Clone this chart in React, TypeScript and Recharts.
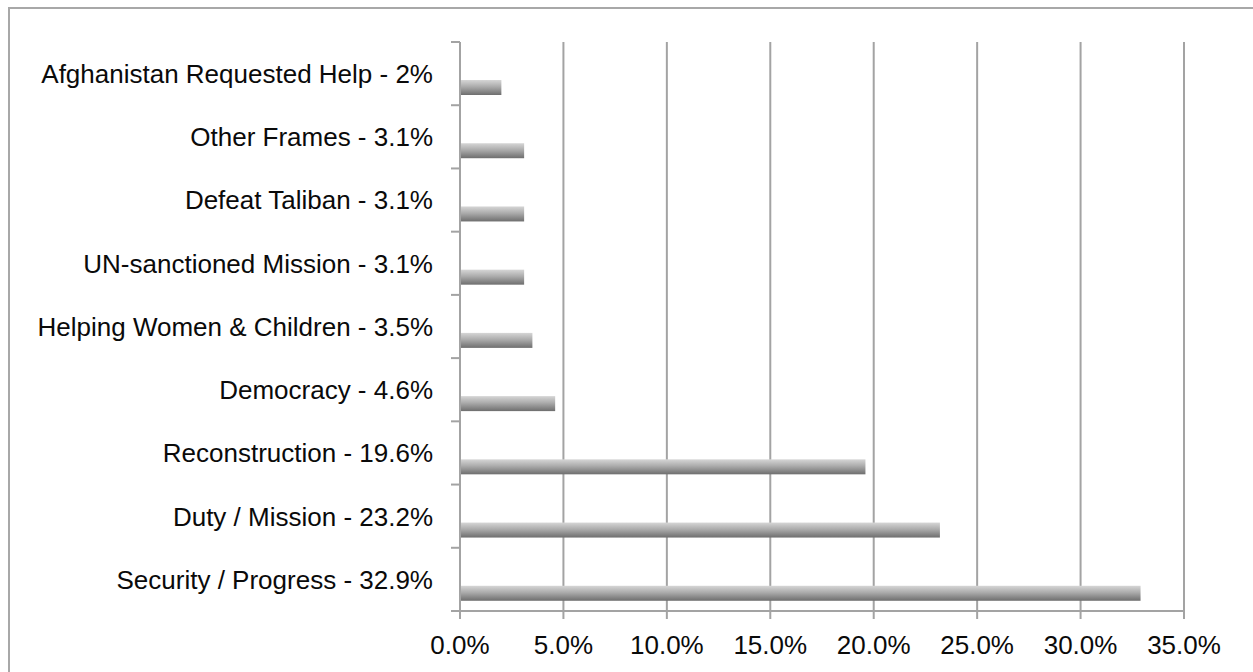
import React from "react";
import { BarChart, Bar, XAxis, YAxis, CartesianGrid } from "recharts";

const categories = [
  "Afghanistan Requested Help - 2%",
  "Other Frames - 3.1%",
  "Defeat Taliban - 3.1%",
  "UN-sanctioned Mission - 3.1%",
  "Helping Women & Children - 3.5%",
  "Democracy - 4.6%",
  "Reconstruction - 19.6%",
  "Duty / Mission - 23.2%",
  "Security / Progress - 32.9%",
];
const values = [2, 3.1, 3.1, 3.1, 3.5, 4.6, 19.6, 23.2, 32.9];
const xTicks = [0, 5, 10, 15, 20, 25, 30, 35];

const data = categories.map((name, i) => ({ name, value: values[i] }));

const W = 1243;
const H = 663;
const MARGIN = { top: 33, right: 69, bottom: 0, left: 0 };
const Y_W = 450;
const X_H = 61;
const FONT = "'Liberation Sans', Arial, Helvetica, sans-serif";
const GRID = "#a3a3a3";
const SW = 2;
const BAR_SHIFT = 14;
const FS = 26;

const YTick = (props: any) => {
  const { x, y, payload, index } = props;
  const plotH = H - MARGIN.top - MARGIN.bottom - X_H;
  const half =
    payload && typeof payload.offset === "number" && payload.offset > 0
      ? payload.offset
      : plotH / categories.length / 2;
  const axisX = Y_W + MARGIN.left;
  return (
    <g>
      <line x1={axisX - 9} x2={axisX} y1={y - half} y2={y - half} stroke={GRID} strokeWidth={SW} />
      {index === categories.length - 1 && (
        <line x1={axisX - 9} x2={axisX} y1={y + half} y2={y + half} stroke={GRID} strokeWidth={SW} />
      )}
      <text x={x} y={y} dy="0.36em" textAnchor="end" fontFamily={FONT} fontSize={FS} fill="#0a0a0a">
        {payload.value}
      </text>
    </g>
  );
};

const XTick = (props: any) => {
  const { x, y, payload } = props;
  return (
    <text x={x} y={y} dy="0.72em" textAnchor="middle" fontFamily={FONT} fontSize={FS} fill="#0a0a0a">
      {payload.value.toFixed(1) + "%"}
    </text>
  );
};

const BarShape = (props: any) => {
  const { x, y, width, height } = props;
  if (!width || width <= 0) return null;
  return <rect x={x} y={y + BAR_SHIFT} width={width} height={height} fill="url(#barGrad)" />;
};

export default function App() {
  return (
    <div
      style={{
        position: "absolute",
        left: 8,
        top: 7,
        width: 1245,
        height: 665,
        boxSizing: "border-box",
        borderTop: "2px solid #a8a8a8",
        borderLeft: "2px solid #a8a8a8",
        background: "#fff",
        overflow: "hidden",
      }}
    >
      <BarChart width={W} height={H} data={data} layout="vertical" margin={MARGIN}>
        <defs>
          <linearGradient id="barGrad" x1="0" y1="0" x2="0" y2="1">
            <stop offset="0%" stopColor="#d6d6d6" />
            <stop offset="45%" stopColor="#ababab" />
            <stop offset="100%" stopColor="#6e6e6e" />
          </linearGradient>
        </defs>
        <CartesianGrid horizontal={false} stroke={GRID} strokeWidth={SW} />
        <XAxis
          type="number"
          domain={[0, 35]}
          ticks={xTicks}
          height={X_H}
          tickSize={8}
          tickMargin={16}
          stroke={GRID}
          strokeWidth={SW}
          tick={<XTick />}
          tickLine={{ stroke: GRID, strokeWidth: SW }}
          axisLine={{ stroke: GRID, strokeWidth: SW }}
        />
        <YAxis
          type="category"
          dataKey="name"
          width={Y_W}
          tickSize={9}
          tickMargin={18}
          tickLine={false}
          axisLine={{ stroke: GRID, strokeWidth: SW }}
          tick={<YTick />}
          interval={0}
        />
        <Bar dataKey="value" barSize={15} isAnimationActive={false} shape={<BarShape />} />
      </BarChart>
    </div>
  );
}
